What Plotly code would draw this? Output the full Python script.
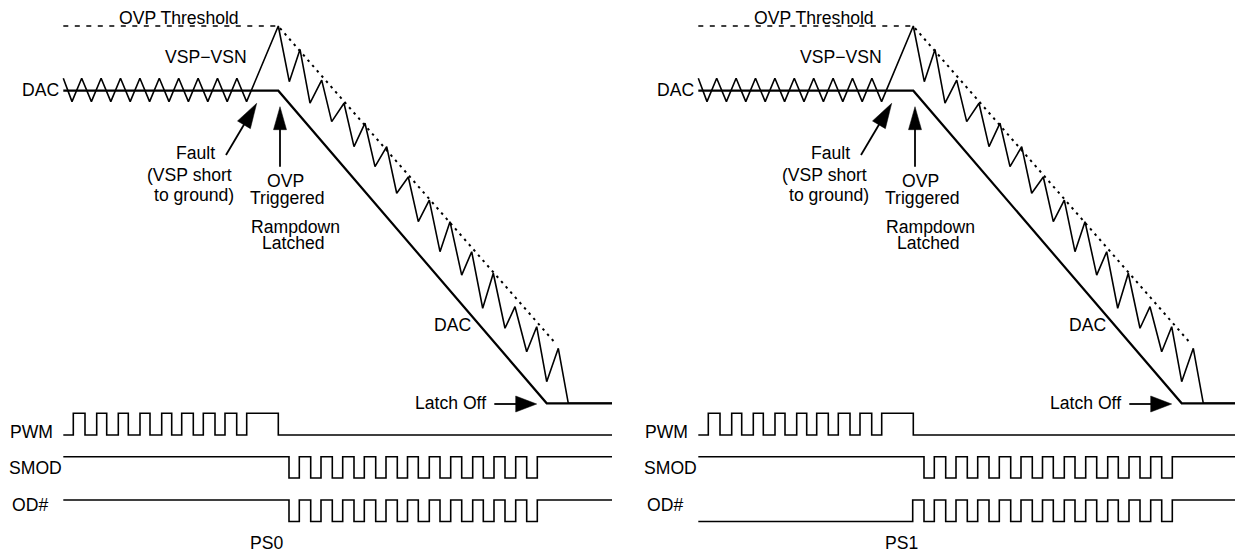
import math
import plotly.graph_objects as go

# ---------------- data (time in arbitrary units, same scale for both panels) ----------------
# PWM (logic levels)
pwm_t = [63.3, 73.3, 85.0, 96.7, 106.7, 118.3, 128.3, 140.0, 150.0, 161.7, 171.7, 181.7,
         193.3, 203.3, 215.0, 225.0, 236.7, 246.7, 278.3, 612.0]
pwm_lvl = [0, 1, 0, 1, 0, 1, 0, 1, 0, 1, 0, 1, 0, 1, 0, 1, 0, 1, 0, 0]

# SMOD (logic levels)
smod_t = [63.3, 289.0, 299.3, 310.7, 321.0, 332.3, 342.7, 354.0, 364.3, 375.7, 386.0, 397.3,
          407.5, 418.3, 429.3, 440.0, 450.7, 461.7, 472.7, 483.3, 494.0, 505.0, 515.7, 526.7,
          537.3, 612.0]
smod_lvl = [1, 0, 1, 0, 1, 0, 1, 0, 1, 0, 1, 0, 1, 0, 1, 0, 1, 0, 1, 0, 1, 0, 1, 0, 1, 1]

# OD# for PS0 (same as SMOD) and PS1 (low, then pulses)
od_ps0_t = list(smod_t)
od_ps0_lvl = list(smod_lvl)
od_ps1_t = [63.3, 277.7, 289.0, 299.3, 310.7, 321.0, 332.3, 342.7, 354.0, 364.3, 375.7, 386.0,
            397.3, 407.5, 418.3, 429.3, 440.0, 450.7, 461.7, 472.7, 483.3, 494.0, 505.0, 515.7,
            526.7, 537.3, 612.0]
od_ps1_lvl = [0, 1, 0, 1, 0, 1, 0, 1, 0, 1, 0, 1, 0, 1, 0, 1, 0, 1, 0, 1, 0, 1, 0, 1, 0, 1, 1]

# VSP-VSN (normalised to DAC level = 1)
vsp_t = [63.3, 72.0, 81.7, 91.4, 101.1, 110.8, 120.5, 130.2, 139.9, 149.6, 159.3, 169.0,
         178.7, 188.4, 198.1, 207.8, 217.5, 227.2, 236.9, 246.6,
         278.3, 289.3, 300.0, 310.0, 321.7, 331.7, 344.0, 354.0, 365.0, 375.0, 386.7, 396.7,
         408.3, 418.3, 429.3, 440.0, 450.0, 461.7, 471.7, 482.7, 493.3, 505.0, 515.0, 526.7,
         536.7, 546.7, 558.3, 568.3, 612.0]
vsp_v = [1.040, 0.965, 1.040, 0.965, 1.040, 0.965, 1.040, 0.965, 1.040, 0.965, 1.040, 0.965,
         1.040, 0.965, 1.040, 0.965, 1.040, 0.965, 1.040, 0.965,
         1.207, 1.029, 1.132, 0.960, 1.034, 0.901, 0.960, 0.821, 0.896, 0.757, 0.821, 0.672,
         0.724, 0.581, 0.650, 0.485, 0.581, 0.410, 0.485, 0.304, 0.416, 0.240, 0.309, 0.165,
         0.245, 0.069, 0.176, 0.0, 0.0]

# DAC
dac_t = [63.3, 278.3, 546.7, 612.0]
dac_v = [1.0, 1.0, 0.0, 0.0]

# OVP threshold and ramp-down envelope
ovp_t = [63.3, 278.3]
ovp_v = [1.207, 1.207]
env_t = [280.0, 556.0]
env_v = [1.20, 0.19]

panel_names = ["PS0", "PS1"]

# ---------------- layout helpers ----------------
PAGE_PAD = 8                      # default page margin around the figure
SCREEN_W, SCREEN_H = 1243, 552
FIG_W, FIG_H = SCREEN_W - PAGE_PAD, SCREEN_H - PAGE_PAD
FONT = "Liberation Sans, Arial, Helvetica, sans-serif"
FS = 17.6
LW = 1.6


def py(ypx):
    """screen row -> paper fraction"""
    return 1 - (ypx - PAGE_PAD) / FIG_H


def lane_domain(hi_px, lo_px):
    half = (lo_px - hi_px) / 2
    return [py(lo_px + half), py(hi_px - half)]


fig = go.Figure()

panels = [
    dict(xa="x", dom=[0, (612 - PAGE_PAD) / FIG_W], rng=[PAGE_PAD, 612],
         od_t=od_ps0_t, od_l=od_ps0_lvl, name=panel_names[0]),
    dict(xa="x2", dom=[(635 - PAGE_PAD) / FIG_W, 1.0], rng=[0, 608],
         od_t=od_ps1_t, od_l=od_ps1_lvl, name=panel_names[1]),
]

lanes = {"pwm": (413.3, 435.0), "smod": (456.7, 478.0), "od": (500.0, 521.5)}
analog_rng = [(403.3 - SCREEN_H) / 312.6, (403.3 - PAGE_PAD) / 312.6]

layout_axes = {}
annotations = []
shapes = []

for p_i, p in enumerate(panels):
    xa = p["xa"]
    xkey = "xaxis" if xa == "x" else "xaxis2"
    layout_axes[xkey] = dict(domain=p["dom"], range=p["rng"], visible=False, fixedrange=True)

    ya_an = "y" if p_i == 0 else "y5"
    yk_an = "yaxis" if p_i == 0 else "yaxis5"
    layout_axes[yk_an] = dict(domain=[0, 1], range=analog_rng, visible=False, fixedrange=True, anchor=xa)

    base = 2 if p_i == 0 else 6
    lane_axes = {}
    for j, (ln, (hi, lo)) in enumerate(lanes.items()):
        n = base + j
        lane_axes[ln] = f"y{n}"
        layout_axes[f"yaxis{n}"] = dict(domain=lane_domain(hi, lo), range=[-0.5, 1.5],
                                         visible=False, fixedrange=True, anchor=xa)

    # analog traces
    fig.add_trace(go.Scatter(x=ovp_t, y=ovp_v, xaxis=xa, yaxis=ya_an, mode="lines",
                             line=dict(color="black", width=1.3, dash="5px,6.5px"), hoverinfo="skip"))
    fig.add_trace(go.Scatter(x=env_t, y=env_v, xaxis=xa, yaxis=ya_an, mode="lines",
                             line=dict(color="black", width=2, dash="2.5px,4.5px"), hoverinfo="skip"))
    fig.add_trace(go.Scatter(x=dac_t, y=dac_v, xaxis=xa, yaxis=ya_an, mode="lines",
                             line=dict(color="black", width=2.2), hoverinfo="skip"))
    fig.add_trace(go.Scatter(x=vsp_t, y=vsp_v, xaxis=xa, yaxis=ya_an, mode="lines",
                             line=dict(color="black", width=LW), hoverinfo="skip"))

    # digital traces
    for ln, t, lv in [("pwm", pwm_t, pwm_lvl), ("smod", smod_t, smod_lvl), ("od", p["od_t"], p["od_l"])]:
        fig.add_trace(go.Scatter(x=t, y=lv, xaxis=xa, yaxis=lane_axes[ln], mode="lines",
                                 line=dict(color="black", width=LW, shape="hv"), hoverinfo="skip"))

    # labels (screen positions)
    labels = [
        ("OVP Threshold", 179, 18, "center"),
        ("VSP\u2212VSN", 205.5, 57, "center"),
        ("DAC", 61, 90, "right"),
        ("Fault", 195, 153, "center"),
        ("(VSP short", 189.5, 175, "center"),
        ("to ground)", 194, 195, "center"),
        ("OVP", 285, 181, "center"),
        ("Triggered", 287, 198, "center"),
        ("Rampdown", 295.5, 227, "center"),
        ("Latched", 293.5, 243, "center"),
        ("DAC", 452.5, 325, "center"),
        ("Latch Off", 450, 403, "center"),
        ("PWM", 31.7, 431.5, "center"),
        ("SMOD", 35.8, 468, "center"),
        ("OD#", 29.7, 505, "center"),
        (p["name"], 266, 543, "center"),
    ]
    for txt, xx, yy, anc in labels:
        annotations.append(dict(text=txt, x=xx, y=py(yy), xref=xa, yref="paper",
                                xanchor=anc, yanchor="middle", showarrow=False,
                                font=dict(family=FONT, size=FS, color="black")))

    # arrows: (tail_x, tail_y, tip_x, tip_y, head_len, head_w) in screen units
    arrows = [
        (226.0, 155.0, 256.7, 103.3, 25, 15),
        (280.0, 166.7, 280.0, 106.7, 23, 13),
        (494.3, 404.0, 536.7, 404.0, 21, 16),
    ]
    for tx, ty, hx, hy, hl, hw in arrows:
        dx, dy = hx - tx, hy - ty
        L = math.hypot(dx, dy)
        ux, uy = dx / L, dy / L
        bx, by = hx - ux * hl, hy - uy * hl
        px_, py_ = -uy, ux
        c1 = (bx + px_ * hw / 2, by + py_ * hw / 2)
        c2 = (bx - px_ * hw / 2, by - py_ * hw / 2)
        shapes.append(dict(type="line", xref=xa, yref="paper", x0=tx, y0=py(ty),
                           x1=bx + ux * 2, y1=py(by + uy * 2),
                           line=dict(color="black", width=1.8)))
        path = f"M{hx},{py(hy)} L{c1[0]},{py(c1[1])} L{c2[0]},{py(c2[1])} Z"
        shapes.append(dict(type="path", xref=xa, yref="paper", path=path,
                           fillcolor="black", line=dict(color="black", width=0.5)))

fig.update_layout(
    width=FIG_W, height=FIG_H,
    margin=dict(l=0, r=0, t=0, b=0),
    paper_bgcolor="white", plot_bgcolor="rgba(0,0,0,0)",
    showlegend=False,
    annotations=annotations,
    shapes=shapes,
    **layout_axes,
)

fig.write_html("out.html", config={"displayModeBar": False})
